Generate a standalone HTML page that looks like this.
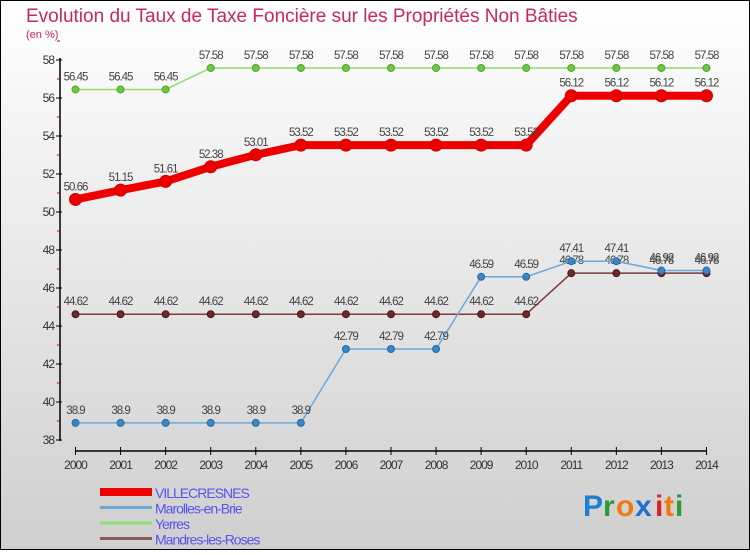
<!DOCTYPE html>
<html><head><meta charset="utf-8"><style>
html,body{margin:0;padding:0}
body{width:750px;height:550px;overflow:hidden;font-family:"Liberation Sans",sans-serif}
</style></head><body>
<svg id="chart" width="750" height="550" xmlns="http://www.w3.org/2000/svg">
<defs><linearGradient id="bg" x1="0" y1="0" x2="0" y2="1"><stop offset="0" stop-color="#ffffff"/><stop offset="1" stop-color="#cfcfcf"/></linearGradient></defs>
<rect x="0.5" y="0.5" width="749" height="549" fill="url(#bg)" stroke="#000"/>
<text x="26" y="22" font-size="19" fill="#c8285a">Evolution du Taux de Taxe Foncière sur les Propriétés Non Bâties</text>
<text x="26" y="38" font-size="11" fill="#c8285a">(en %)</text>
<g id="axes"></g>
<g id="series"></g>
<g id="legend"></g>
<g font-size="30" font-weight="bold" font-family="Liberation Sans,sans-serif">
<text x="583" y="516" fill="#1e7fd0">P</text><text x="603" y="516" fill="#2a9a3a">r</text><text x="616" y="516" fill="#f07a10">o</text><text x="635" y="516" fill="#1e6fd0">x</text><text x="655" y="516" fill="#e02020">i</text><text x="664" y="516" fill="#f07a10">t</text><text x="675" y="516" fill="#2a9a3a">i</text>
</g>
</svg>
<script>
const years=[2000,2001,2002,2003,2004,2005,2006,2007,2008,2009,2010,2011,2012,2013,2014];
const villecresnes=[50.66,51.15,51.61,52.38,53.01,53.52,53.52,53.52,53.52,53.52,53.52,56.12,56.12,56.12,56.12];
const marolles=[38.9,38.9,38.9,38.9,38.9,38.9,42.79,42.79,42.79,46.59,46.59,47.41,47.41,46.92,46.92];
const yerres=[56.45,56.45,56.45,57.58,57.58,57.58,57.58,57.58,57.58,57.58,57.58,57.58,57.58,57.58,57.58];
const mandres=[44.62,44.62,44.62,44.62,44.62,44.62,44.62,44.62,44.62,44.62,44.62,46.78,46.78,46.78,46.78];
const yTicks=[38,40,42,44,46,48,50,52,54,56,58];
const seriesNames=["VILLECRESNES","Marolles-en-Brie","Yerres","Mandres-les-Roses"];
const NS="http://www.w3.org/2000/svg";
const x=i=>75.5+i*45.07;
const y=v=>440-(v-38)*19;
function mk(tag,attrs,parent,txt){const e=document.createElementNS(NS,tag);for(const k in attrs)e.setAttribute(k,attrs[k]);if(txt!==undefined)e.textContent=txt;parent.appendChild(e);return e;}
const axes=document.getElementById('axes');
const ya=mk('line',{x1:60,y1:58,x2:60,y2:441,stroke:'#000','stroke-width':1.5},axes);


yTicks.forEach(t=>{
 mk('line',{x1:56,x2:62,y1:y(t),y2:y(t),stroke:'#000'},axes);
 mk('line',{x1:57,x2:60,y1:y(t+1),y2:y(t+1),stroke:'#c00'},axes);
 const l=mk('text',{x:54,y:y(t)+4,'font-size':12,'text-anchor':'end',fill:'#333','letter-spacing':'-1'},axes,String(t));
 
 
});
const xa=mk('line',{x1:75,y1:451,x2:706,y2:451,stroke:'#000','stroke-width':1.5},axes);


years.forEach((yr,i)=>{
 mk('line',{x1:x(i),x2:x(i),y1:447,y2:455,stroke:'#000'},axes);
 const l=mk('text',{x:x(i),y:469,'font-size':12,'text-anchor':'middle',fill:'#333','letter-spacing':'-1'},axes,String(yr));
 
 
});
const sg=document.getElementById('series');
function drawSeries(vals,name,color,lw,r,dot,dotStroke,labelColor){
 const g=mk('g',{},sg);
 
 
 const p=mk('polyline',{points:vals.map((v,i)=>x(i)+','+y(v)).join(' '),fill:'none',stroke:color,'stroke-width':lw,'stroke-linejoin':'round'},g);
 
 
 vals.forEach((v,i)=>{
  const c=mk('circle',{cx:x(i),cy:y(v),r:r,fill:dot,stroke:dotStroke,'stroke-width':1},g);
  
  
  const t=mk('text',{x:x(i),y:y(v)-9,'font-size':11.5,'text-anchor':'middle',fill:labelColor,'letter-spacing':'-1'},g,String(v));
  
  
 });
}
drawSeries(mandres,'mandres','#7a3b3b',1.5,3.5,'#6a2a2a','#4a1a1a','#444');
drawSeries(marolles,'marolles','#6aa8d8',1.5,3.5,'#3a86c8','#2a6aa0','#444');
drawSeries(yerres,'yerres','#90dd70',1.5,3.5,'#70c840','#50a030','#444');
drawSeries(villecresnes,'villecresnes','#ee0000',8,6,'#ee0000','#cc0000','#444');
const lg=document.getElementById('legend');
const lcolors=['#ee0000','#6aa8d8','#90dd70','#8a5a5a'];
const lws=[8,3,3,3];
seriesNames.forEach((n,i)=>{
 const yy=492+i*15.5;
 const l=mk('line',{x1:100,x2:152,y1:yy,y2:yy,stroke:lcolors[i],'stroke-width':lws[i]},lg);
 
 
 const t=mk('text',{x:155,y:yy+6,'font-size':14,fill:'#5555ee','letter-spacing':'-1'},lg,n);
 
 
});
</script>
</body></html>
